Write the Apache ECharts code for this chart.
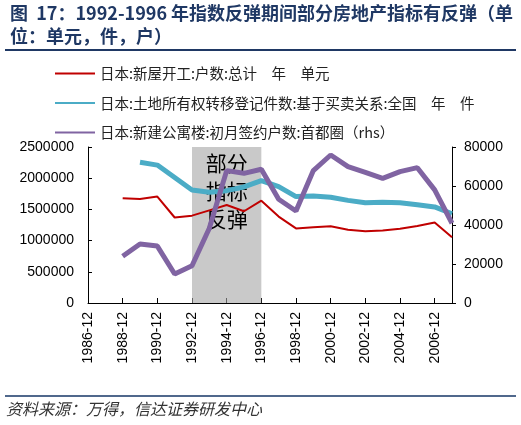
<!DOCTYPE html>
<html>
<head>
<meta charset="utf-8">
<script src="https://cdn.jsdelivr.net/npm/echarts@6/dist/echarts.min.js"></script>
<style>
  html, body { margin: 0; padding: 0; background: #fff; }
  #chart { width: 521px; height: 425px; }
</style>
</head>
<body>
<div id="chart"></div>
<script>
  // 数据
  const categories = [
    '1986-12', '1987-12', '1988-12', '1989-12', '1990-12', '1991-12', '1992-12', '1993-12',
    '1994-12', '1995-12', '1996-12', '1997-12', '1998-12', '1999-12', '2000-12', '2001-12',
    '2002-12', '2003-12', '2004-12', '2005-12', '2006-12', '2007-12'
  ]
  const housingStarts = [
    null, null, 1680000, 1665000, 1705000, 1370000, 1400000, 1485000, 1570000, 1470000, 1640000,
    1385000, 1195000, 1215000, 1230000, 1175000, 1150000, 1160000, 1190000, 1235000, 1290000, 1055000
  ]
  const landTransfers = [
    null, null, null, 2255000, 2210000, 2010000, 1810000, 1775000, 1800000, 1860000, 1960000,
    1865000, 1705000, 1715000, 1695000, 1645000, 1605000, 1615000, 1605000, 1575000, 1540000, 1430000
  ]
  const condoContracts = [
    null, null, 24000, 30300, 29200, 14900, 19100, 38300, 67900, 66500, 68600,
    53200, 47200, 67900, 75900, 69900, 67000, 63900, 67400, 69400, 58000, 40900
  ]
  const seriesNames = [
    '日本:新屋开工:户数:总计　年　单元',
    '日本:土地所有权转移登记件数:基于买卖关系:全国　年　件',
    '日本:新建公寓楼:初月签约户数:首都圈（rhs）'
  ]
  const reboundRange = ['1992-12', '1996-12']

  const cjk = '"Noto Sans CJK SC", sans-serif'
  const latin = '"Liberation Sans", Arial, sans-serif'
  const navy = '#1F3864'

  const chart = echarts.init(document.getElementById('chart'))

  const option = {
    animation: false,
    title: {
      text: '图  17：1992-1996 年指数反弹期间部分房地产指标有反弹（单\n位：单元，件，户）',
      left: 5,
      top: -3,
      textStyle: {
        fontFamily: cjk,
        fontSize: 18,
        fontWeight: 'bold',
        color: navy,
        lineHeight: 23
      }
    },
    graphic: [
      {
        type: 'line',
        shape: { x1: 5, y1: 50, x2: 516, y2: 50 },
        style: { stroke: navy, lineWidth: 2 }
      },
      {
        type: 'line',
        shape: { x1: 5, y1: 396, x2: 516, y2: 396 },
        style: { stroke: '#50688c', lineWidth: 2 }
      },
      {
        type: 'text',
        left: 6,
        top: 401,
        style: {
          text: '资料来源：万得，信达证券研发中心',
          font: 'italic 16px "Noto Sans CJK SC", sans-serif',
          fill: '#333'
        }
      }
    ],
    legend: {
      data: seriesNames,
      orient: 'vertical',
      left: 49,
      top: 61,
      itemWidth: 40,
      itemHeight: 15,
      itemGap: 14.5,
      itemStyle: { opacity: 0 },
      textStyle: {
        fontFamily: cjk,
        fontSize: 14.5,
        color: '#222',
        lineHeight: 15
      }
    },
    grid: {
      left: 88,
      right: 69,
      top: 147,
      bottom: 122
    },
    xAxis: {
      type: 'category',
      data: categories,
      boundaryGap: false,
      axisLine: { lineStyle: { color: '#000', width: 1 } },
      axisTick: { inside: true, length: 5, interval: 1, lineStyle: { color: '#000' } },
      axisLabel: {
        interval: 1,
        rotate: 90,
        margin: 9,
        fontFamily: latin,
        fontSize: 14,
        color: '#000'
      },
      splitLine: { show: false }
    },
    yAxis: [
      {
        type: 'value',
        min: 0,
        max: 2500000,
        interval: 500000,
        axisLine: { show: true, lineStyle: { color: '#000' } },
        axisTick: { show: true, inside: true, length: 4, lineStyle: { color: '#000' } },
        axisLabel: {
          margin: 14,
          fontFamily: latin,
          fontSize: 14,
          color: '#000',
          formatter: (v) => String(v)
        },
        splitLine: { show: false }
      },
      {
        type: 'value',
        min: 0,
        max: 80000,
        interval: 20000,
        position: 'right',
        axisLine: { show: true, lineStyle: { color: '#000' } },
        axisTick: { show: true, inside: false, length: 4, lineStyle: { color: '#000' } },
        axisLabel: {
          margin: 12,
          fontFamily: latin,
          fontSize: 14,
          color: '#000',
          formatter: (v) => String(v)
        },
        splitLine: { show: false }
      }
    ],
    series: [
      {
        name: seriesNames[0],
        type: 'line',
        data: housingStarts,
        symbol: 'none',
        lineStyle: { color: '#C00000', width: 2 },
        itemStyle: { color: '#C00000' },
        z: 2
      },
      {
        name: seriesNames[1],
        type: 'line',
        data: landTransfers,
        symbol: 'none',
        lineStyle: { color: '#4BACC6', width: 5 },
        itemStyle: { color: '#4BACC6' },
        z: 3
      },
      {
        name: seriesNames[2],
        type: 'line',
        yAxisIndex: 1,
        data: condoContracts,
        symbol: 'none',
        lineStyle: { color: '#8064A2', width: 5 },
        itemStyle: { color: '#8064A2' },
        z: 4
      },
      {
        // 灰色区间：1992-1996 反弹
        name: 'band',
        type: 'line',
        data: [],
        z: 10,
        markArea: {
          silent: true,
          itemStyle: { color: 'rgba(165,165,165,0.6)' },
          label: {
            show: true,
            position: 'insideTop',
            distance: 2,
            formatter: '部分\n指标\n反弹',
            fontFamily: cjk,
            fontSize: 21,
            lineHeight: 28,
            color: '#000'
          },
          data: [[{ xAxis: reboundRange[0] }, { xAxis: reboundRange[1] }]]
        }
      }
    ]
  }

  chart.setOption(option)
</script>
</body>
</html>
